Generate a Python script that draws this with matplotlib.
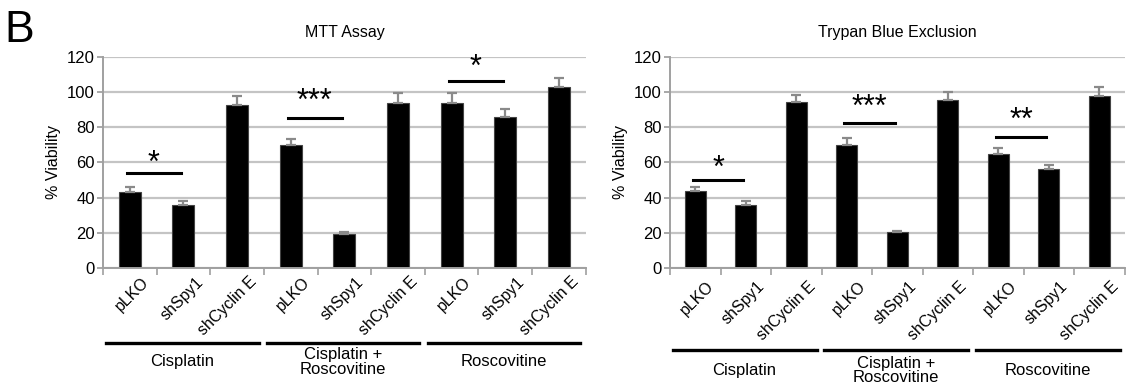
import matplotlib
matplotlib.use("Agg")
import matplotlib.pyplot as plt

plt.rcParams['font.family'] = ['Liberation Sans', 'DejaVu Sans']

# data
cells = ["pLKO", "shSpy1", "shCyclin E"] * 3
groups = ["Cisplatin", "Cisplatin +\nRoscovitine", "Roscovitine"]

mtt_vals = [43, 35.6, 92.8, 69.9, 19.6, 93.9, 93.9, 85.7, 102.7]
mtt_err = [2.8, 2.2, 5.2, 3.4, 1.0, 5.5, 5.5, 4.6, 5.3]
mtt_sig = [(0, "*", 54, 59.4), (3, "***", 85, 94.3), (6, "*", 106.5, 114)]

tb_vals = [44, 36, 94.1, 69.9, 20.2, 95.4, 65, 56.4, 97.9]
tb_err = [1.9, 2.3, 4.3, 4.1, 1.0, 4.9, 3.4, 2.3, 4.7]
tb_sig = [(0, "*", 50, 56.3), (3, "***", 82.5, 91), (6, "**", 74.4, 83.8)]

yticks = [0, 20, 40, 60, 80, 100, 120]

fig = plt.figure(figsize=(11.28, 3.87), dpi=100)

fig.text(0.004, 0.975, "B", fontsize=32, va="top", ha="left")


def draw(ax, title, vals, err, sig, lab_y, brk_y, grp_y):
    x = list(range(len(vals)))
    ax.set_axisbelow(True)
    ax.yaxis.grid(True, color="#c4c4c4", lw=1.6)
    ax.bar(x, vals, width=0.41, color="black", edgecolor="#444", lw=0.8,
           yerr=[[0] * len(err), err], ecolor="#8a8a8a",
           error_kw=dict(elinewidth=1.6, capsize=3.5, capthick=1.6))
    ax.set_xlim(-0.5, len(vals) - 0.5)
    ax.set_ylim(0, 120)
    ax.set_yticks(yticks)
    ax.tick_params(axis="y", labelsize=12, color="#999", length=4, width=1.2, pad=2)
    for s in ["top", "right"]:
        ax.spines[s].set_visible(False)
    for s in ["left", "bottom"]:
        ax.spines[s].set_color("#a0a0a0")
        ax.spines[s].set_linewidth(1.4)
    ax.set_xticks([i - 0.5 for i in range(len(vals) + 1)], minor=True)
    ax.tick_params(axis="x", which="minor", color="#a0a0a0", length=5, width=1.2)
    ax.set_xticks(x)
    ax.set_xticklabels([])
    ax.tick_params(axis="x", which="major", length=0)
    for i, c in enumerate(cells):
        ax.text(i + 0.22, lab_y, c, rotation=45, ha="right", va="top",
                rotation_mode="anchor", fontsize=11.5,
                transform=ax.get_xaxis_transform())
    ax.set_ylabel("% Viability", fontsize=11.5, labelpad=4)
    ax.set_title(title, fontsize=11.5, pad=14,
                 family=["Liberation Sans Narrow", "Liberation Sans"])
    for i, s, ly, sy in sig:
        ax.plot([i - 0.05, i + 0.95], [ly, ly], color="black", lw=2.2)
        ax.text(i + 0.45, sy, s, ha="center", va="center", fontsize=22)
    for g, name in enumerate(groups):
        ax.plot([3 * g - 0.45, 3 * g + 2.4], [brk_y, brk_y], color="black",
                lw=2.4, transform=ax.get_xaxis_transform(), clip_on=False)
        ax.text(3 * g + 0.97, grp_y, name, ha="center", va="center",
                fontsize=12, linespacing=0.95,
                transform=ax.get_xaxis_transform())


ax1 = fig.add_axes([0.0913, 0.3075, 0.428, 0.5455])
draw(ax1, "MTT Assay", mtt_vals, mtt_err, mtt_sig, -0.03, -0.355, -0.445)

ax2 = fig.add_axes([0.594, 0.3075, 0.403, 0.5455])
draw(ax2, "Trypan Blue Exclusion", tb_vals, tb_err, tb_sig, -0.05, -0.39, -0.485)

fig.savefig("out.png", dpi=100)
